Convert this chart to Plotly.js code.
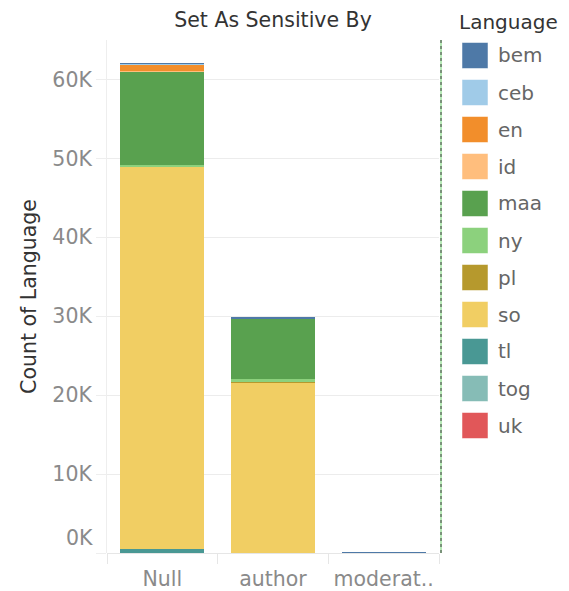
<!DOCTYPE html>
<html>
<head>
<meta charset="utf-8">
<script src="https://cdn.plot.ly/plotly-3.0.1.min.js"></script>
<style>
  html, body { margin: 0; padding: 0; background: #ffffff; }
  #chart { width: 569px; height: 591px; }
</style>
</head>
<body>
<div id="chart"></div>
<script>
// Categories on the x axis ("Set As Sensitive By")
const categories = ["Null", "author", "moderat.."];

// Languages in legend order, with their colours
const languages = ["bem", "ceb", "en", "id", "maa", "ny", "pl", "so", "tl", "tog", "uk"];
const languageColors = ["#4e79a7", "#a0cbe8", "#f28e2b", "#ffbe7d", "#59a14f", "#8cd17d",
                        "#b6992d", "#f1ce63", "#499894", "#86bcb6", "#e15759"];

// Count of Language per category, one array per language: [Null, author, moderat..]
const bem = [130, 200, 150];
const ceb = [100, 60, 0];
const en  = [720, 0, 0];
const id  = [200, 0, 0];
const maa = [11700, 7600, 0];
const ny  = [330, 300, 0];
const pl  = [0, 100, 0];
const so  = [48340, 21600, 0];
const tl  = [520, 0, 0];
const tog = [0, 0, 0];
const uk  = [0, 0, 0];

// Y axis ticks
const yTickVals = [0, 10000, 20000, 30000, 40000, 50000, 60000];
const yTickText = ["0K", "10K", "20K", "30K", "40K", "50K", "60K"];

const seriesByLanguage = { bem, ceb, en, id, maa, ny, pl, so, tl, tog, uk };

// Plot area in pixels
const W = 569, H = 591;
const M = { l: 107, r: 130, t: 40, b: 38 };
const plotW = W - M.l - M.r;
const plotH = H - M.t - M.b;
const px2x = px => (px - M.l) / plotW;
const px2y = py => (H - M.b - py) / plotH;

const FONT = "DejaVu Sans, sans-serif";
const FS = 20.5;
const FS_LEGEND = 20;

// Stack from the bottom: the last legend entry sits lowest
const traces = languages.slice().reverse().map(lang => {
  const idx = languages.indexOf(lang);
  return {
    type: "bar",
    name: lang,
    x: categories,
    y: seriesByLanguage[lang],
    marker: { color: languageColors[idx], line: { width: 0 } },
    hoverinfo: "skip",
    showlegend: false
  };
});

// Legend: swatches and labels
const shapes = [];
const annotations = [];
const swX0 = px2x(462), swX1 = px2x(488);
languages.forEach((lang, i) => {
  const cy = 55.5 + 37 * i;
  shapes.push({
    type: "rect", xref: "paper", yref: "paper",
    x0: swX0, x1: swX1, y0: px2y(cy + 13), y1: px2y(cy - 13),
    fillcolor: languageColors[i],
    line: { color: "rgba(255,255,255,0.5)", width: 1 }
  });
  annotations.push({
    xref: "paper", yref: "paper", x: px2x(496), y: px2y(cy),
    xanchor: "left", yanchor: "middle", showarrow: false,
    text: lang, font: { family: FONT, size: FS_LEGEND, color: "#666666" }
  });
});
annotations.push({
  xref: "paper", yref: "paper", x: px2x(457), y: px2y(22),
  xanchor: "left", yanchor: "middle", showarrow: false,
  text: "Language", font: { family: FONT, size: FS_LEGEND, color: "#333333" }
});
// Zero label sits slightly above its gridline
annotations.push({
  xref: "paper", yref: "y", x: px2x(95), y: 0, yshift: 15,
  xanchor: "right", yanchor: "middle", showarrow: false,
  text: yTickText[0], font: { family: FONT, size: FS, color: "#8a8a8a" }
});

// Pane divider on the right
shapes.push({
  type: "line", xref: "paper", yref: "paper",
  x0: px2x(441), x1: px2x(441), y0: 0, y1: 1,
  line: { color: "#6fd46f", width: 1 }
});
shapes.push({
  type: "line", xref: "paper", yref: "paper",
  x0: px2x(441), x1: px2x(441), y0: 0, y1: 1,
  line: { color: "#3c3c3c", width: 1, dash: "dot" }
});

const layout = {
  width: W, height: H,
  margin: M,
  paper_bgcolor: "#ffffff",
  plot_bgcolor: "#ffffff",
  barmode: "stack",
  bargap: 0.24,
  showlegend: false,
  font: { family: FONT },
  title: {
    text: "Set As Sensitive By",
    x: 273 / W, xanchor: "center",
    y: 1 - 20 / H, yanchor: "middle",
    font: { family: FONT, size: FS, color: "#333333" }
  },
  xaxis: {
    type: "category",
    tickson: "boundaries",
    ticks: "outside", ticklen: 10, tickcolor: "#e6e6e6", tickwidth: 1,
    ticklabelstandoff: 11,
    showgrid: false, showline: false, zeroline: false,
    tickfont: { family: FONT, size: FS, color: "#8a8a8a" }
  },
  yaxis: {
    range: [0, 65000],
    tickvals: yTickVals,
    ticktext: yTickText.map((t, i) => i === 0 ? "" : t),
    ticks: "outside", ticklen: 10, tickcolor: "#eeeeee", tickwidth: 1,
    showgrid: true, gridcolor: "#ececec", gridwidth: 1,
    zeroline: true, zerolinecolor: "#e6e6e6", zerolinewidth: 1,
    showline: true, linecolor: "#eeeeee", linewidth: 1,
    tickfont: { family: FONT, size: FS, color: "#8a8a8a" },
    title: {
      text: "Count of Language",
      standoff: 10,
      font: { family: FONT, size: FS, color: "#333333" }
    }
  },
  shapes: shapes,
  annotations: annotations
};

Plotly.newPlot("chart", traces, layout, { displayModeBar: false, staticPlot: true });
</script>
</body>
</html>
